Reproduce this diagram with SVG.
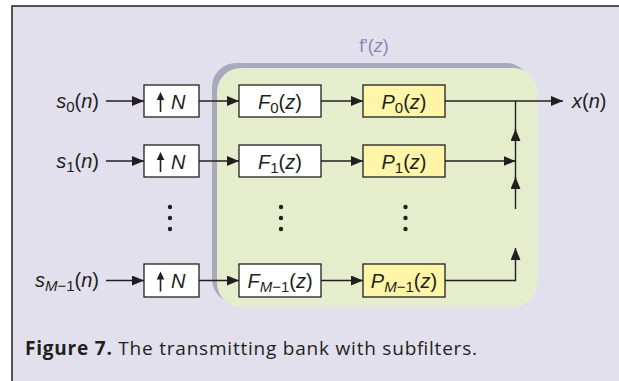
<svg xmlns="http://www.w3.org/2000/svg" width="619" height="381" viewBox="0 0 619 381">
<defs>
<style>
.t{font-family:"Liberation Sans",Arial,sans-serif;font-size:20px;fill:#231f20}
.i{font-style:italic}
.sb{font-size:15px}
.box{fill:#ffffff;stroke:#231f20;stroke-width:1.3}
.ybox{fill:#fff5a8;stroke:#231f20;stroke-width:1.3}
.ln{fill:none;stroke:#231f20;stroke-width:1.4}
.ua{stroke:#231f20;stroke-width:1.6}
.dot{fill:#231f20}
</style>
<marker id="ah" markerUnits="userSpaceOnUse" markerWidth="12" markerHeight="10" refX="12" refY="5" orient="auto">
<path d="M0,0 L12,5 L0,10 Z" fill="#231f20"/>
</marker>
<g id="uparrow">
<line class="ua" x1="0" y1="0" x2="0" y2="-14"/>
<path d="M-3.8,-12 L0,-20 L3.8,-12 Z" fill="#231f20"/>
</g>
</defs>
<rect x="12" y="6" width="700" height="500" fill="#e3e0ee" stroke="#231f20" stroke-width="1.5"/>
<g id="subfilter-region">
<rect x="212" y="63" width="318" height="240" rx="24" fill="#aaa8bb"/>
<rect x="217" y="68" width="320" height="239" rx="24" fill="#e6edcc"/>
<text x="374" y="52" text-anchor="middle" style="font-family:'Liberation Sans',Arial,sans-serif;font-size:18px;fill:#8b87b5">f'(<tspan font-style="italic">z</tspan>)</text>
</g>
<g id="inputs">
<text class="t" x="99" y="108" text-anchor="end"><tspan class="i">s</tspan><tspan class="sb" dy="4">0</tspan><tspan dy="-4">(</tspan><tspan class="i">n</tspan>)</text>
<text class="t" x="99" y="167.5" text-anchor="end"><tspan class="i">s</tspan><tspan class="sb" dy="4">1</tspan><tspan dy="-4">(</tspan><tspan class="i">n</tspan>)</text>
<text class="t" x="99" y="287" text-anchor="end"><tspan class="i">s</tspan><tspan class="sb i" dy="4">M</tspan><tspan class="sb">−1</tspan><tspan dy="-4">(</tspan><tspan class="i">n</tspan>)</text>
</g>
<g id="up0"><rect class="box" x="144" y="85" width="55" height="32"/><use href="#uparrow" x="160.5" y="112"/><text class="t i" x="171" y="108.5">N</text></g>
<g id="up1"><rect class="box" x="144" y="145" width="55" height="32"/><use href="#uparrow" x="160.5" y="172"/><text class="t i" x="171" y="168.5">N</text></g>
<g id="upM"><rect class="box" x="144" y="264" width="55" height="33"/><use href="#uparrow" x="160.5" y="291.5"/><text class="t i" x="171" y="288">N</text></g>
<g id="F0"><rect class="box" x="239" y="85" width="82" height="32"/><text class="t" x="280" y="108.5" text-anchor="middle"><tspan class="i">F</tspan><tspan class="sb" dy="4">0</tspan><tspan dy="-4">(</tspan><tspan class="i">z</tspan>)</text></g>
<g id="F1"><rect class="box" x="239" y="145" width="82" height="32"/><text class="t" x="280" y="168.5" text-anchor="middle"><tspan class="i">F</tspan><tspan class="sb" dy="4">1</tspan><tspan dy="-4">(</tspan><tspan class="i">z</tspan>)</text></g>
<g id="FM"><rect class="box" x="239" y="264" width="82" height="33"/><text class="t" x="280" y="288" text-anchor="middle"><tspan class="i">F</tspan><tspan class="sb i" dy="4">M</tspan><tspan class="sb">−1</tspan><tspan dy="-4">(</tspan><tspan class="i">z</tspan>)</text></g>
<g id="P0"><rect class="ybox" x="363" y="85" width="82" height="32"/><text class="t" x="404" y="108.5" text-anchor="middle"><tspan class="i">P</tspan><tspan class="sb" dy="4">0</tspan><tspan dy="-4">(</tspan><tspan class="i">z</tspan>)</text></g>
<g id="P1"><rect class="ybox" x="363" y="145" width="82" height="32"/><text class="t" x="404" y="168.5" text-anchor="middle"><tspan class="i">P</tspan><tspan class="sb" dy="4">1</tspan><tspan dy="-4">(</tspan><tspan class="i">z</tspan>)</text></g>
<g id="PM"><rect class="ybox" x="363" y="264" width="82" height="33"/><text class="t" x="404" y="288" text-anchor="middle"><tspan class="i">P</tspan><tspan class="sb i" dy="4">M</tspan><tspan class="sb">−1</tspan><tspan dy="-4">(</tspan><tspan class="i">z</tspan>)</text></g>
<g id="output"><text class="t" x="572" y="108"><tspan class="i">x</tspan>(<tspan class="i">n</tspan>)</text></g>
<g id="ellipses">
<circle class="dot" cx="170" cy="207" r="2.2"/><circle class="dot" cx="170" cy="218" r="2.2"/><circle class="dot" cx="170" cy="229" r="2.2"/>
<circle class="dot" cx="281" cy="207" r="2.2"/><circle class="dot" cx="281" cy="218" r="2.2"/><circle class="dot" cx="281" cy="229" r="2.2"/>
<circle class="dot" cx="405.5" cy="207" r="2.2"/><circle class="dot" cx="405.5" cy="218" r="2.2"/><circle class="dot" cx="405.5" cy="229" r="2.2"/>
</g>
<g id="connectors">
<path class="ln" d="M106 101 H144" marker-end="url(#ah)"/>
<path class="ln" d="M106 161 H144" marker-end="url(#ah)"/>
<path class="ln" d="M106 280.5 H144" marker-end="url(#ah)"/>
<path class="ln" d="M199 101 H239" marker-end="url(#ah)"/>
<path class="ln" d="M199 161 H239" marker-end="url(#ah)"/>
<path class="ln" d="M199 280.5 H239" marker-end="url(#ah)"/>
<path class="ln" d="M321 101 H363" marker-end="url(#ah)"/>
<path class="ln" d="M321 161 H363" marker-end="url(#ah)"/>
<path class="ln" d="M321 280.5 H363" marker-end="url(#ah)"/>
<path class="ln" d="M445 101 H563" marker-end="url(#ah)"/>
<path class="ln" d="M445 161 H515.5" marker-end="url(#ah)"/>
<path class="ln" d="M515.5 161 V129" marker-end="url(#ah)"/>
<path class="ln" d="M515.5 131 V101"/>
<path class="ln" d="M515.5 209 V177" marker-end="url(#ah)"/>
<path class="ln" d="M515.5 179 V161"/>
<path class="ln" d="M445 280.5 H515.5 V248" marker-end="url(#ah)"/>
</g>
<text x="25" y="355" textLength="452" lengthAdjust="spacing" style="font-family:'Open Sans','Noto Sans',sans-serif;font-size:19px;fill:#231f20"><tspan font-weight="bold">Figure 7.</tspan> The transmitting bank with subfilters.</text>
</svg>
